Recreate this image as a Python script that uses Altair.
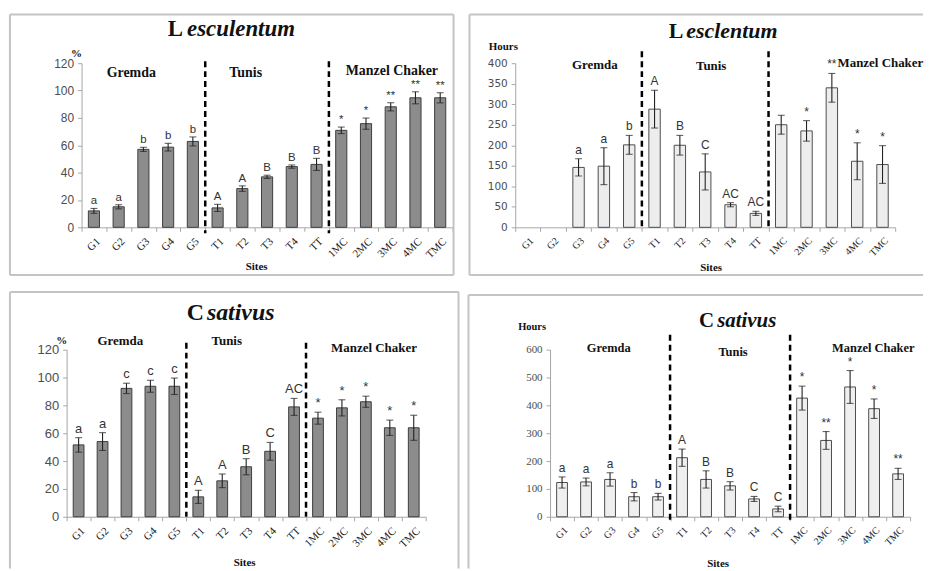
import altair as alt
import pandas as pd

SITES = ["G1", "G2", "G3", "G4", "G5", "T1", "T2", "T3", "T4", "TT",
         "1MC", "2MC", "3MC", "4MC", "TMC"]

# L. esculentum, percentage
le_pct = [12, 15, 57, 58.6, 62.8, 14.2, 28.3, 36.9, 44.4, 46, 70.9, 75.8, 88.1, 94.7, 94.7]
le_pct_err = [1.8, 1.5, 1.5, 2.8, 3.3, 2.6, 2.0, 1.2, 1.2, 4.4, 2.4, 4.1, 3.0, 4.4, 3.7]
le_pct_sig = ["a", "a", "b", "b", "b", "A", "A", "B", "B", "B", "*", "*", "**", "**", "**"]

# L. esculentum, hours
le_hrs = [None, None, 146, 149, 201, 288, 200, 135, 55, 34, 250, 235, 340, 161, 153]
le_hrs_err = [None, None, 21, 45, 23, 46, 24, 44, 5, 5, 23, 25, 35, 45, 46]
le_hrs_sig = ["", "", "a", "a", "b", "A", "B", "C", "AC", "AC", "", "*", "**", "*", "*"]

# C. sativus, percentage
cs_pct = [51.6, 54, 92.2, 93.7, 93.7, 14.3, 25.8, 35.9, 47, 78.9, 70.8, 78.2, 82.6, 63.9, 63.9]
cs_pct_err = [5.2, 6.4, 3.7, 4.3, 5.9, 4.7, 4.9, 5.8, 6.4, 6.1, 4.3, 5.8, 4.0, 5.5, 9.0]
cs_pct_sig = ["a", "a", "c", "c", "c", "A", "A", "B", "C", "AC", "*", "*", "*", "*", "*"]

# C. sativus, hours
cs_hrs = [123, 125, 134, 72, 72, 212, 134, 111, 64, 28, 426, 274, 466, 388, 154]
cs_hrs_err = [20, 14, 24, 15, 12, 31, 31, 15, 9, 10, 43, 32, 59, 35, 20]
cs_hrs_sig = ["a", "a", "a", "b", "b", "A", "B", "B", "C", "C", "*", "**", "*", "*", "**"]

SANS = "Liberation Sans"
SERIF = "Liberation Serif"
AXIS_GRAY = "#a6a6a6"
FRAME_GRAY = "#c4c4c4"
ONE = pd.DataFrame({"k": [0]})


def txt(text, x, y, size=13, weight="bold", style="normal", align="center",
        baseline="middle", font=SERIF, color="#111111"):
    return alt.Chart(ONE).mark_text(
        text=text, align=align, baseline=baseline, font=font, fontSize=size,
        fontWeight=weight, fontStyle=style, color=color,
    ).encode(x=alt.value(x), y=alt.value(y))


def edge(x1, y1, x2, y2):
    return alt.Chart(ONE).mark_rule(color=FRAME_GRAY, strokeWidth=2).encode(
        x=alt.value(x1), y=alt.value(y1), x2=alt.value(x2), y2=alt.value(y2))


def panel(vals, errs, sigs, st):
    df = pd.DataFrame({"site": SITES, "value": vals, "err": errs, "sig": sigs})
    df["lo"] = df["value"] - df["err"]
    df["hi"] = df["value"] + df["err"]

    xscale = alt.Scale(domain=SITES, range=st["xrange"], paddingInner=0, paddingOuter=0)
    xaxis = alt.Axis(title=None, labelAngle=315, labelFont=SERIF,
                     labelFontSize=st["xlab"], labelColor="#222222", labelPadding=4,
                     tickBand="extent", tickSize=4, tickColor=AXIS_GRAY,
                     domainColor=AXIS_GRAY, labelOverlap=False)
    yscale = alt.Scale(domain=[0, st["ymax"]], nice=False)
    yaxis = alt.Axis(title=None, values=st["yticks"], grid=False, labelFont=st["yfont"],
                     labelFontSize=st["ylab"], labelColor="#4d4d4d", tickSize=4,
                     tickColor=AXIS_GRAY, domainColor=AXIS_GRAY, labelPadding=4,
                     offset=st.get("yoffset", 0))

    def X(**kw):
        return alt.X("site:N", scale=xscale, axis=xaxis, **kw)

    def Y(field):
        return alt.Y(f"{field}:Q", scale=yscale, axis=yaxis)

    base = alt.Chart(df)
    layers = []
    if "canvas" in st:
        # transparent sheet spanning the whole figure, fixes the page extent
        cl, cr, ct, cb = st["canvas"]
        layers.append(alt.Chart(ONE).mark_rect(opacity=0).encode(
            x=alt.value(cl), x2=alt.value(cr), y=alt.value(ct), y2=alt.value(cb)))
    for e in st["frame"]:
        layers.append(edge(*e))

    bars = base.mark_bar(width=alt.RelativeBandSize(0.45), fill=st["fill"],
                         stroke=st["stroke"], strokeWidth=1).encode(x=X(), y=Y("value"))
    whisk = base.mark_rule(color="#222222", strokeWidth=1.1).encode(
        x=X(), y=Y("lo"), y2="hi:Q")
    cap_lo = base.mark_tick(size=7, thickness=1.1, color="#222222").encode(x=X(), y=Y("lo"))
    cap_hi = base.mark_tick(size=7, thickness=1.1, color="#222222").encode(x=X(), y=Y("hi"))
    sig = base.mark_text(baseline="bottom", dy=-2, font=SANS, fontSize=st["sig"],
                         color="#333333").encode(x=X(), y=Y("hi"), text="sig:N")

    sep_df = pd.DataFrame({"site": ["T1", "1MC"]})
    st_top, st_bot = st["sep"]
    seps = alt.Chart(sep_df).mark_rule(color="black", strokeWidth=2.5, strokeDash=[6, 4]).encode(
        x=X(bandPosition=0), y=alt.value(st_top), y2=alt.value(st_bot))
    layers += [bars, whisk, cap_lo, cap_hi, sig, seps]

    (lx, sx, ty, tsize), (first, rest) = st["title"], st["title_text"]
    layers.append(txt(first, lx, ty, size=tsize, align="right", baseline="alphabetic"))
    layers.append(txt(rest, sx, ty, size=tsize, style="italic", align="left",
                      baseline="alphabetic"))
    for name, gx, gy, al in st["groups"]:
        layers.append(txt(name, gx, gy, size=st["gsize"], align=al))
    ux, uy, utext, usize = st["unit"]
    layers.append(txt(utext, ux, uy, size=usize))
    sx2, sy2 = st["sites"]
    layers.append(txt("Sites", sx2, sy2, size=11))

    return alt.layer(*layers).properties(width=st["w"], height=st["h"])


# Both columns share one cell width; band ranges and axis offsets place each plot.
p1 = panel(le_pct, le_pct_err, le_pct_sig, dict(
    w=408, h=165, xrange=[0, 373], ymax=120, yticks=list(range(0, 121, 20)),
    canvas=(-82, 848, -62, 509),
    yfont=SANS, ylab=12, xlab=11, sig=11.5, fill="#8c8c8c", stroke="#3d3d3d",
    frame=[(-72, -49, 374, -49), (-72, 213, 374, 213), (-72, -49, -72, 213),
           (374, -49, 374, 213)],
    sep=(-2, 171),
    title=(102, 106, -27, 23), title_text=("L", "esculentum"),
    gsize=14, groups=[("Gremda", 50, 10, "center"), ("Tunis", 165, 10, "center"),
                      ("Manzel Chaker", 312, 8, "center")],
    unit=(-5, -9, "%", 11), sites=(176, 205)))

p2 = panel(le_hrs, le_hrs_err, le_hrs_sig, dict(
    w=347, h=165, xrange=[-35, 347], yoffset=35, ymax=400, yticks=list(range(0, 401, 50)),
    yfont="DejaVu Sans", ylab=10.5, xlab=10, sig=12, fill="#ededed", stroke="#4d4d4d",
    frame=[(-81, -49, 375, -49), (-81, 213, 375, 213), (-81, -49, -81, 213)],
    sep=(-12, 165),
    title=(134, 137, -25, 22), title_text=("L", "esclentum"),
    gsize=13, groups=[("Gremda", 45, 2, "center"), ("Tunis", 162, 3, "center"),
                      ("Manzel Chaker", 289, 0, "left")],
    unit=(-47, -16, "Hours", 11), sites=(162, 206)))

p3 = panel(cs_pct, cs_pct_err, cs_pct_sig, dict(
    w=408, h=168, xrange=[-15, 346], yoffset=15, ymax=120, yticks=list(range(0, 121, 20)),
    yfont=SANS, ylab=13, xlab=11, sig=13, fill="#8c8c8c", stroke="#3d3d3d",
    frame=[(-72, -58, 379, -58), (-72, -58, -72, 220), (379, -58, 379, 220)],
    sep=(-7, 168),
    title=(123, 126, -30, 24), title_text=("C", "sativus"),
    gsize=13, groups=[("Gremda", 39, -9, "center"), ("Tunis", 146, -9, "center"),
                      ("Manzel Chaker", 294, -2, "center")],
    unit=(-20, -9, "%", 11), sites=(164, 215)))

p4 = panel(cs_hrs, cs_hrs_err, cs_hrs_sig, dict(
    w=362, h=168, xrange=[0, 362], ymax=600, yticks=list(range(0, 601, 100)),
    yfont=SERIF, ylab=11, xlab=10, sig=12, fill="#efefef", stroke="#4d4d4d",
    frame=[(-82, -55, 375, -55), (-82, -55, -82, 220)],
    sep=(-15, 175),
    title=(165, 168, -23, 21), title_text=("C", "sativus"),
    gsize=12.5, groups=[("Gremda", 59, -2, "center"), ("Tunis", 184, 2, "center"),
                        ("Manzel Chaker", 325, -2, "center")],
    unit=(-18, -23, "Hours", 10.5), sites=(169, 216)))

chart = alt.concat(
    p1, p2, p3, p4, columns=2, bounds="flush", align="none",
    spacing={"row": 123, "column": 63},
).properties(padding=0, background="white").configure_view(
    stroke="transparent", strokeWidth=0
)

chart.save("out.html", embed_options={"renderer": "svg", "actions": False})
